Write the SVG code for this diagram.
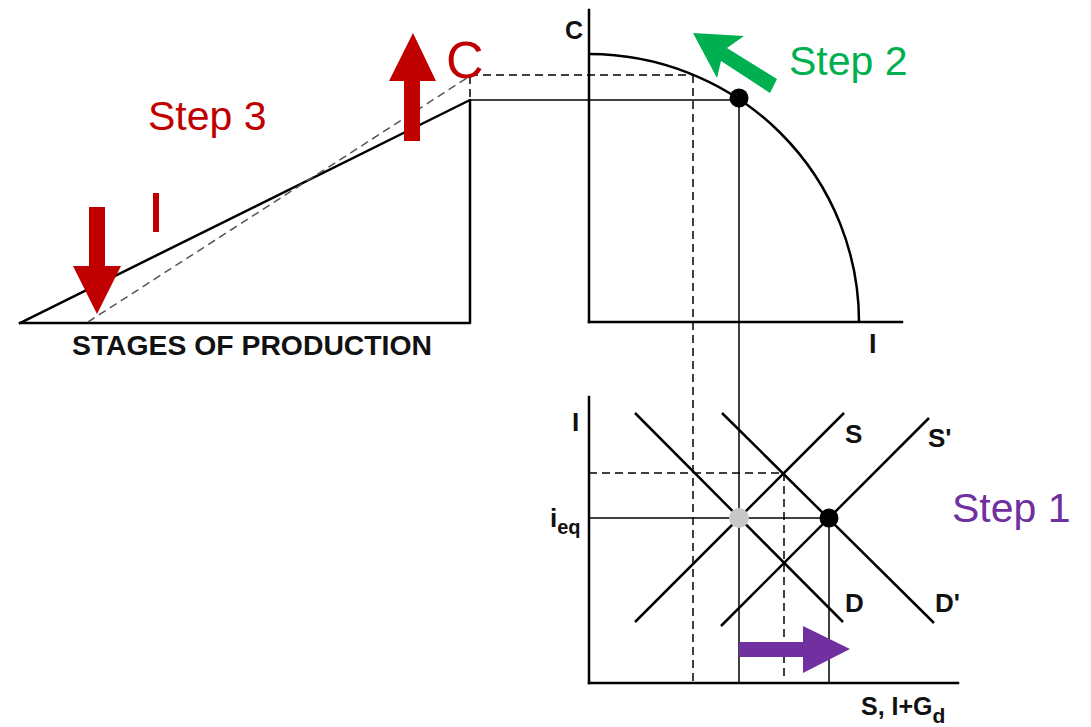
<svg xmlns="http://www.w3.org/2000/svg" width="1091" height="727" viewBox="0 0 1091 727">
<style>
.ax{stroke:#000;stroke-width:2.5;fill:none;stroke-linecap:square}
.thin{stroke:#000;stroke-width:1.5;fill:none}
.dash{stroke:#000;stroke-width:1.5;fill:none;stroke-dasharray:8,5}
.ln{stroke:#000;stroke-width:2.5;fill:none}
.lbl{font-family:"Liberation Sans",Arial,sans-serif;font-weight:bold;fill:#111}
.step{font-family:"Liberation Sans",Arial,sans-serif;font-size:41px}
</style>
<rect width="1091" height="727" fill="#fff"/>
<g id="connectors">
<line class="thin" x1="470" y1="100" x2="739" y2="100"/>
<line class="dash" x1="470" y1="75" x2="693" y2="75"/>
<line class="dash" x1="693" y1="75" x2="693" y2="683"/>
<line class="thin" x1="739" y1="98" x2="739" y2="683"/>
</g>
<g id="triangle">
<polyline class="ax" points="20,323 470,323 470,100 20,323" stroke-linejoin="round"/>
<line x1="88" y1="322" x2="470" y2="76" stroke="#555" stroke-width="1.5" stroke-dasharray="8,5"/>
<line class="dash" x1="470" y1="76" x2="470" y2="100"/>
<text class="lbl" x="72" y="355" font-size="27" textLength="360" lengthAdjust="spacingAndGlyphs">STAGES OF PRODUCTION</text>
</g>
<g id="ppf">
<line class="ax" x1="589" y1="10" x2="589" y2="322"/>
<line class="ax" x1="589" y1="322" x2="902" y2="322"/>
<path class="ln" d="M589,54 A270,268 0 0 1 859,322"/>
<circle cx="739" cy="98" r="9.5" fill="#000"/>
<text class="lbl" x="565" y="39" font-size="25">C</text>
<text class="lbl" x="869" y="353" font-size="27">I</text>
</g>
<g id="loanable">
<line class="ax" x1="589" y1="397" x2="589" y2="683"/>
<line class="ax" x1="589" y1="683" x2="958" y2="683"/>
<line class="thin" x1="589" y1="518" x2="829" y2="518"/>
<line class="thin" x1="829" y1="518" x2="829" y2="683"/>
<line class="dash" x1="589" y1="473" x2="784" y2="473"/>
<line class="dash" x1="784" y1="473" x2="784" y2="680"/>
<line class="ln" x1="635" y1="413" x2="843" y2="622"/>
<line class="ln" x1="722" y1="413" x2="934" y2="623"/>
<line class="ln" x1="635" y1="622" x2="844" y2="413"/>
<line class="ln" x1="721" y1="626" x2="929" y2="418"/>
<circle cx="739" cy="518" r="10" fill="#c8c8c8"/>
<circle cx="829" cy="518" r="9.5" fill="#000"/>
<text class="lbl" x="572" y="431" font-size="26">I</text>
<text class="lbl" x="550" y="527" font-size="26">i<tspan font-size="20" dy="7">eq</tspan></text>
<text class="lbl" x="845" y="443" font-size="26">S</text>
<text class="lbl" x="928" y="447" font-size="26">S'</text>
<text class="lbl" x="845" y="612" font-size="26">D</text>
<text class="lbl" x="935" y="612" font-size="26">D'</text>
<text class="lbl" x="861" y="715" font-size="25">S, I+G<tspan font-size="21" dy="8">d</tspan></text>
</g>
<g id="step3">
<text class="step" x="148" y="130" fill="#c00000">Step 3</text>
<text x="446" y="78" fill="#c00000" font-family="Liberation Sans,Arial,sans-serif" font-size="52">C</text>
<rect x="153" y="193" width="6" height="39" fill="#c00000"/>
<polygon points="404,141 420,141 420,81 436,81 413,33 389,81 404,81" fill="#c00000"/>
<polygon points="89,207 105,207 105,266 121,266 97,314 73,266 89,266" fill="#c00000"/>
</g>
<g id="step2">
<text class="step" x="789" y="75" fill="#00b050">Step 2</text>
<polygon points="777,79 770,93 721,61 717,78 693,33 744,36 727,48" fill="#00b050"/>
</g>
<g id="step1">
<text class="step" x="952" y="522" fill="#7030a0">Step 1</text>
<polygon points="739,642 803,642 803,626 850,649 803,673 803,657 739,657" fill="#7030a0"/>
</g>
</svg>
